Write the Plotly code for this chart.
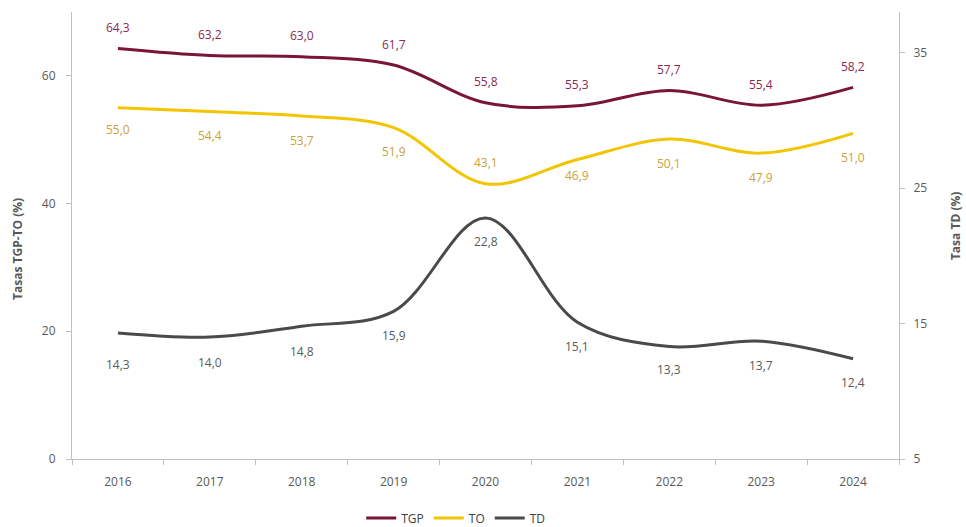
import plotly.graph_objects as go

years = ["2016", "2017", "2018", "2019", "2020", "2021", "2022", "2023", "2024"]
tgp = [64.3, 63.2, 63.0, 61.7, 55.8, 55.3, 57.7, 55.4, 58.2]
to = [55.0, 54.4, 53.7, 51.9, 43.1, 46.9, 50.1, 47.9, 51.0]
td = [14.3, 14.0, 14.8, 15.9, 22.8, 15.1, 13.3, 13.7, 12.4]

# label vertical offsets (pixels) relative to each point
tgp_shift = [21] * 9
to_shift = [-22, -24, -24, -24, 21, -16, -24, -24, -24]
td_shift = [-31, -25, -25, -24, -24, -24, -23, -24, -24]

C_TGP, C_TGP_TXT = "#7a1538", "#8a2a52"
C_TO, C_TO_TXT = "#f2c500", "#c9a23a"
C_TD, C_TD_TXT = "#4a4a4a", "#5a5a5a"
AX = "#bfbfbf"
TXT = "#595959"
FONT = "Open Sans"

def fmt(v):
    return f"{v:.1f}".replace(".", ",")

fig = go.Figure()
fig.add_trace(go.Scatter(x=years, y=tgp, name="TGP", mode="lines",
                         line=dict(color=C_TGP, width=3, shape="spline", smoothing=1.0)))
fig.add_trace(go.Scatter(x=years, y=to, name="TO", mode="lines",
                         line=dict(color=C_TO, width=3, shape="spline", smoothing=1.0)))
fig.add_trace(go.Scatter(x=years, y=td, name="TD", mode="lines", yaxis="y2",
                         line=dict(color=C_TD, width=3, shape="spline", smoothing=1.0)))

ann = []
for series, shifts, yref, col in [(tgp, tgp_shift, "y", C_TGP_TXT),
                                  (to, to_shift, "y", C_TO_TXT),
                                  (td, td_shift, "y2", C_TD_TXT)]:
    for i, (v, s) in enumerate(zip(series, shifts)):
        ann.append(dict(x=i, y=v, xref="x", yref=yref, text=fmt(v), showarrow=False,
                        yshift=s, font=dict(family=FONT, size=12, color=col)))

ann.append(dict(x=-0.0653, y=0.47, xref="paper", yref="paper", text="<b>Tasas TGP-TO (%)</b>",
                textangle=-90, showarrow=False, xanchor="center", yanchor="middle",
                font=dict(family=FONT, size=12, color=TXT)))
ann.append(dict(x=1.0677, y=0.521, xref="paper", yref="paper", text="<b>Tasa TD (%)</b>",
                textangle=-90, showarrow=False, xanchor="center", yanchor="middle",
                font=dict(family=FONT, size=12, color=TXT)))

fig.update_layout(
    width=966, height=527,
    margin=dict(l=72, r=67, t=12, b=68, autoexpand=False),
    paper_bgcolor="white", plot_bgcolor="white",
    font=dict(family=FONT, size=12, color=TXT),
    showlegend=True,
    legend=dict(orientation="h", x=0.464, xanchor="center", y=-0.132,
                yanchor="middle", font=dict(family=FONT, size=12, color="#404040"),
                itemwidth=30, tracegroupgap=0),
    xaxis=dict(type="category", range=[-0.5, 8.5], showline=True, linecolor=AX, linewidth=1,
               ticks="outside", tickson="boundaries", tickcolor=AX, ticklen=5,
               ticklabelstandoff=12,
               showgrid=False, zeroline=False, tickfont=dict(size=12, color=TXT)),
    yaxis=dict(range=[0, 70], tickvals=[0, 20, 40, 60], showline=True, linecolor=AX,
               ticks="outside", tickcolor=AX, ticklen=5, showgrid=False, zeroline=False,
               ticklabelstandoff=8, tickfont=dict(size=12, color=TXT)),
    yaxis2=dict(range=[5, 38], tickvals=[5, 15, 25, 35], overlaying="y", side="right",
                showline=True, linecolor=AX, ticks="outside", tickcolor=AX, ticklen=5,
                ticklabelstandoff=6,
                showgrid=False, zeroline=False, tickfont=dict(size=12, color=TXT)),
    annotations=ann,
)

fig.write_html("out.html", config={"displayModeBar": False},
               post_script="document.body.style.margin='0';document.body.style.overflow='hidden';")
